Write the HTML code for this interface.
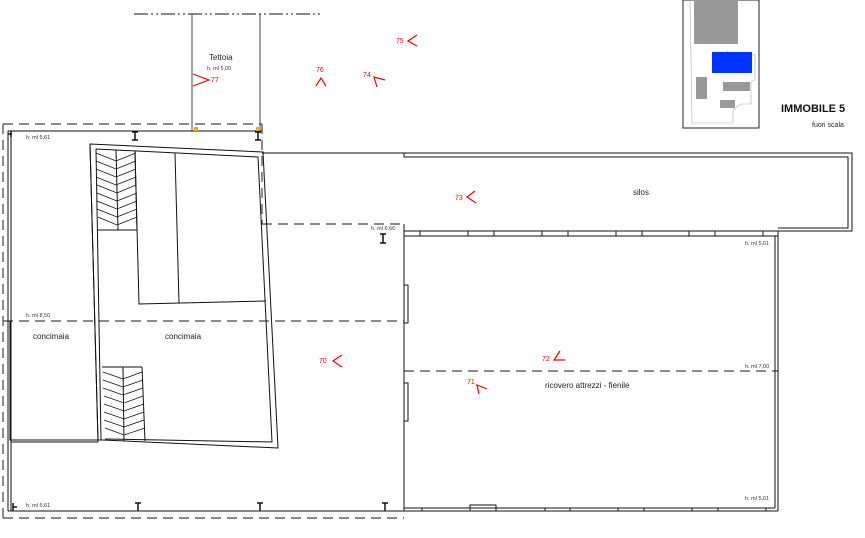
<!DOCTYPE html>
<html><head><meta charset="utf-8"><style>
html,body{margin:0;padding:0;background:#fff;}
svg{display:block;}
text{font-family:"Liberation Sans",sans-serif;}
</style></head><body>
<svg width="865" height="538" viewBox="0 0 865 538" xmlns="http://www.w3.org/2000/svg">
<g fill="none" stroke="#111" stroke-width="1">
<line x1="134" y1="14" x2="322" y2="14" stroke-dasharray="14,3,2,3,2,3"/>
<line x1="192" y1="14" x2="192" y2="131" stroke="#444"/>
<line x1="260" y1="14" x2="260" y2="131" stroke="#444"/>
<g stroke="#444" stroke-dasharray="10,6" stroke-width="1.2">
<line x1="3" y1="124" x2="262" y2="124"/>
<line x1="3" y1="124" x2="3" y2="518"/>
<line x1="3" y1="518" x2="404" y2="518"/>
<line x1="262" y1="124" x2="262" y2="224"/>
<line x1="262" y1="224" x2="404" y2="224"/>
<line x1="3" y1="321" x2="404" y2="321"/>
<line x1="404" y1="371" x2="778" y2="371"/>
</g>
<line x1="8" y1="131" x2="262" y2="131"/>
<line x1="8" y1="131" x2="8" y2="511"/>
<line x1="11" y1="133" x2="11" y2="511"/>
<line x1="8" y1="511" x2="404" y2="511"/>
<line x1="404" y1="224" x2="404" y2="511"/>
<rect x="404" y="285" width="4" height="38"/>
<rect x="404" y="383" width="4" height="38"/>
<polyline points="262,153 852,153 852,231 778,231"/>
<polyline points="404,153 404,157 848,157 848,228 778,228"/>
<line x1="404" y1="231" x2="778" y2="231"/>
<line x1="404" y1="236" x2="778" y2="236"/>
<line x1="778" y1="231" x2="778" y2="511"/>
<line x1="775" y1="236" x2="775" y2="508"/>
<line x1="404" y1="511" x2="778" y2="511"/>
<line x1="404" y1="508" x2="775" y2="508"/>
<g>
<line x1="420" y1="231" x2="420" y2="236"/><line x1="468" y1="231" x2="468" y2="236"/>
<line x1="494" y1="231" x2="494" y2="236"/><line x1="542" y1="231" x2="542" y2="236"/>
<line x1="568" y1="231" x2="568" y2="236"/><line x1="616" y1="231" x2="616" y2="236"/>
<line x1="642" y1="231" x2="642" y2="236"/><line x1="689" y1="231" x2="689" y2="236"/>
<line x1="715" y1="231" x2="715" y2="236"/><line x1="763" y1="231" x2="763" y2="236"/>
<line x1="422" y1="508" x2="422" y2="511"/>
<line x1="545" y1="508" x2="545" y2="511"/>
<line x1="570" y1="508" x2="570" y2="511"/><line x1="618" y1="508" x2="618" y2="511"/>
<line x1="644" y1="508" x2="644" y2="511"/><line x1="692" y1="508" x2="692" y2="511"/>
<line x1="718" y1="508" x2="718" y2="511"/><line x1="766" y1="508" x2="766" y2="511"/>
</g>
<rect x="470" y="505" width="26" height="6"/>
<!-- tilted inner building -->
<polygon points="90,144 263,152 278,448 103,440 98,440"/>
<polyline points="96,149 258,157 272,442 105,439"/>
<line x1="96" y1="149" x2="101" y2="440"/>
<line x1="90" y1="144" x2="98" y2="442"/>
<!-- left concimaia box -->
<polyline points="10,321 10,440 100,440"/>
<line x1="11" y1="442" x2="98" y2="442"/>
<line x1="98" y1="230" x2="137" y2="230"/>
<polyline points="135,152 139,304 266,301"/>
<line x1="175" y1="153" x2="179" y2="303"/>
<line x1="116" y1="150" x2="118" y2="230"/>
<line x1="135" y1="151" x2="137" y2="230"/>
<line x1="102" y1="367" x2="142" y2="367"/>
<line x1="123" y1="367" x2="124" y2="441"/>
<line x1="142" y1="367" x2="145" y2="441"/>
</g>
<g stroke="#111" stroke-width="0.8" fill="none">
<path d="M96,153 L116,161 L136,153 M96,161 L116,169 L136,161 M96,169 L116,177 L136,169 M96,177 L116,185 L136,177 M97,185 L117,193 L136,185 M97,193 L117,201 L137,193 M97,201 L117,209 L137,201 M97,209 L117,217 L137,209 M98,217 L117,225 L137,217"/>
<path d="M103,372 L123,379 L142,372 M103,380 L123,387 L143,380 M103,388 L123,395 L143,388 M104,396 L124,403 L143,396 M104,404 L124,411 L144,404 M104,412 L124,419 L144,412 M104,420 L124,427 L144,420 M105,428 L124,435 L145,428"/>
</g>
<g stroke="#111" stroke-width="1.5" fill="none">
<path d="M11,131v6 M8,134h4"/>
<path d="M135,132v8 M132,132h6 M132,140h6"/>
<path d="M258,132v8 M255,132h6 M255,140h6"/>
<path d="M383,234v9 M380,234h6 M380,243h6"/>
<path d="M138,503v8 M135,503h6"/>
<path d="M260,503v8 M257,503h6"/>
<path d="M385,503v8 M382,503h6"/>
<path d="M13,503v8 M13,507h4"/>
</g>
<g fill="#f0a800"><rect x="194" y="127" width="4" height="4"/><rect x="256" y="127" width="4" height="4"/></g>
<g stroke="#e00" stroke-width="1.2" fill="none">
<polyline points="193,74 209,80 193,86"/>
<polyline points="417,35 408,41 417,46"/>
<polyline points="316,86 321,78 326,86"/>
<polyline points="377,87 374,77 385,80"/>
<polyline points="475,191 467,197 476,203"/>
<polyline points="342,355 333,361 342,367"/>
<polyline points="560,351 554,360 565,360"/>
<polyline points="487,389 477,385 479,394"/>
</g>
<g fill="#e00" font-size="7">
<text x="211" y="82">77</text>
<text x="396" y="43">75</text>
<text x="316" y="72">76</text>
<text x="363" y="77">74</text>
<text x="455" y="200">73</text>
<text x="319" y="363">70</text>
<text x="542" y="361">72</text>
<text x="467" y="384">71</text>
</g>
<g fill="#222" font-size="8">
<text x="209" y="60">Tettoia</text>
<text x="633" y="195">silos</text>
<text x="33" y="339">concimaia</text>
<text x="165" y="339">concimaia</text>
<text x="545" y="388">ricovero attrezzi - fienile</text>
</g>
<g fill="#333" font-size="5.5">
<text x="207" y="70">h. ml 5,00</text>
<text x="26" y="139">h. ml 5,61</text>
<text x="26" y="317">h. ml 8,50</text>
<text x="371" y="230">h. ml 6,66</text>
<text x="745" y="245">h. ml 5,61</text>
<text x="745" y="368">h. ml 7,00</text>
<text x="745" y="500">h. ml 5,61</text>
<text x="26" y="507">h. ml 5,61</text>
</g>
<rect x="683" y="0" width="76" height="128" fill="#fff" stroke="#222" stroke-width="1"/>
<polyline points="690,0 692,123 733,123 733,110 741,104 751,104 751,82 755,80 755,55 727,53 727,50" fill="none" stroke="#aaa" stroke-width="0.6"/>
<rect x="694" y="0" width="44" height="44" fill="#999"/>
<rect x="712" y="52" width="40" height="21" fill="#0033ff"/>
<rect x="696" y="77" width="11" height="22" fill="#999"/>
<rect x="723" y="82" width="27" height="9" fill="#999"/>
<rect x="720" y="100" width="15" height="8" fill="#999"/>
<text x="781" y="112" font-size="11" font-weight="bold" fill="#111">IMMOBILE 5</text>
<text x="812" y="127" font-size="7" fill="#222">fuori scala</text>
</svg>
</body></html>
